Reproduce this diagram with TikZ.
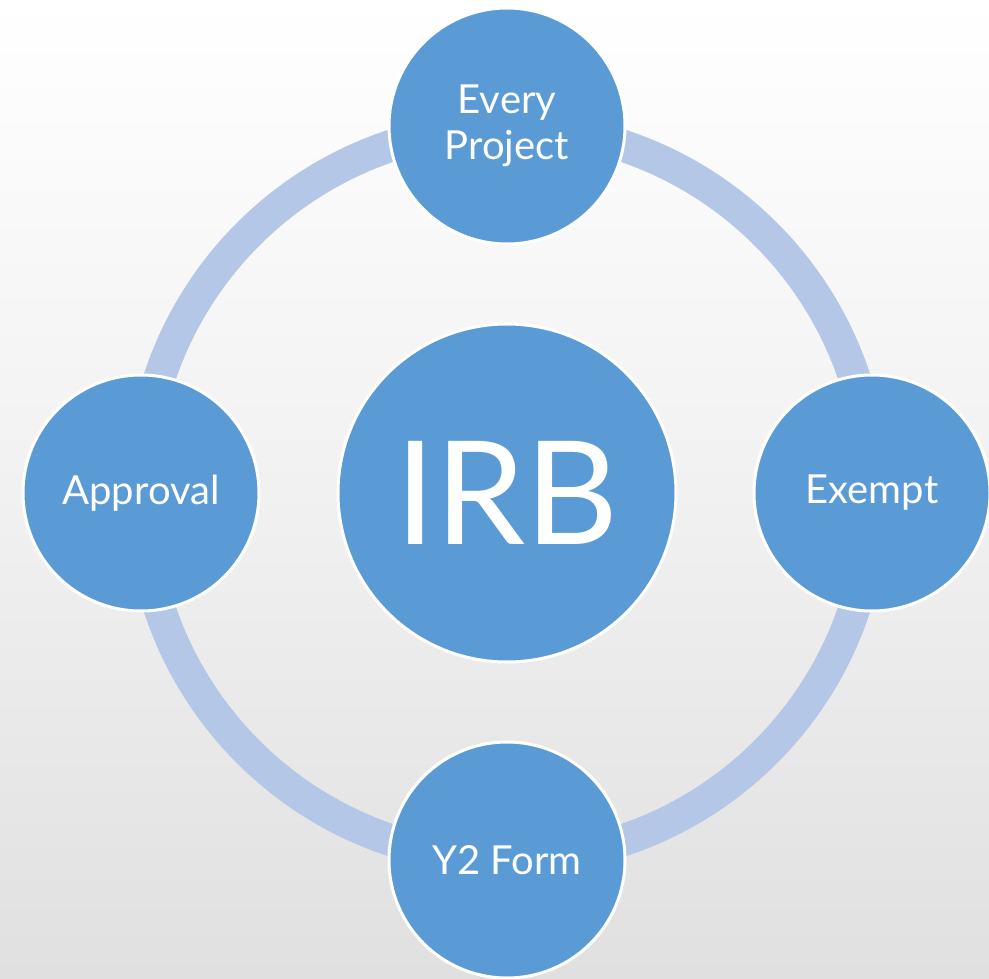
\documentclass[tikz,border=0pt]{standalone}
\usepackage{fontspec}
\setmainfont{Lato}
\usetikzlibrary{positioning}
\definecolor{circblue}{RGB}{91,155,213}
\definecolor{ringblue}{RGB}{180,199,231}
\definecolor{bggray}{RGB}{224,224,224}
\tikzset{
  stage/.style={circle, fill=circblue, draw=white, line width=3pt,
    minimum size=236pt, inner sep=0pt, text=white, align=center,
    font=\fontsize{40}{46}\selectfont},
  hub/.style={stage, minimum size=338pt, font=\fontsize{144}{150}\selectfont},
  ring/.style={draw=ringblue, line width=32pt}
}
\begin{document}
\begin{tikzpicture}[x=1pt,y=-1pt]
% background
\shade[top color=white, bottom color=bggray, middle color=white!55!bggray]
  (0,0) rectangle (989,979);
\useasboundingbox (0,0) rectangle (989,979);

% points def
\coordinate (Center) at (507,493);

% ring through the stages
\draw[ring] (Center) circle (366);

% nodes
\node[hub] (irb) at (Center) {IRB};
\node[stage] (proj) at (507,126) {Every\\Project};
\node[stage] (exempt) at (872,493) {Exempt};
\node[stage] (form) at (507,860) {Y2 Form};
\node[stage] (appr) at (141,493) {Approval};
\end{tikzpicture}
\end{document}
